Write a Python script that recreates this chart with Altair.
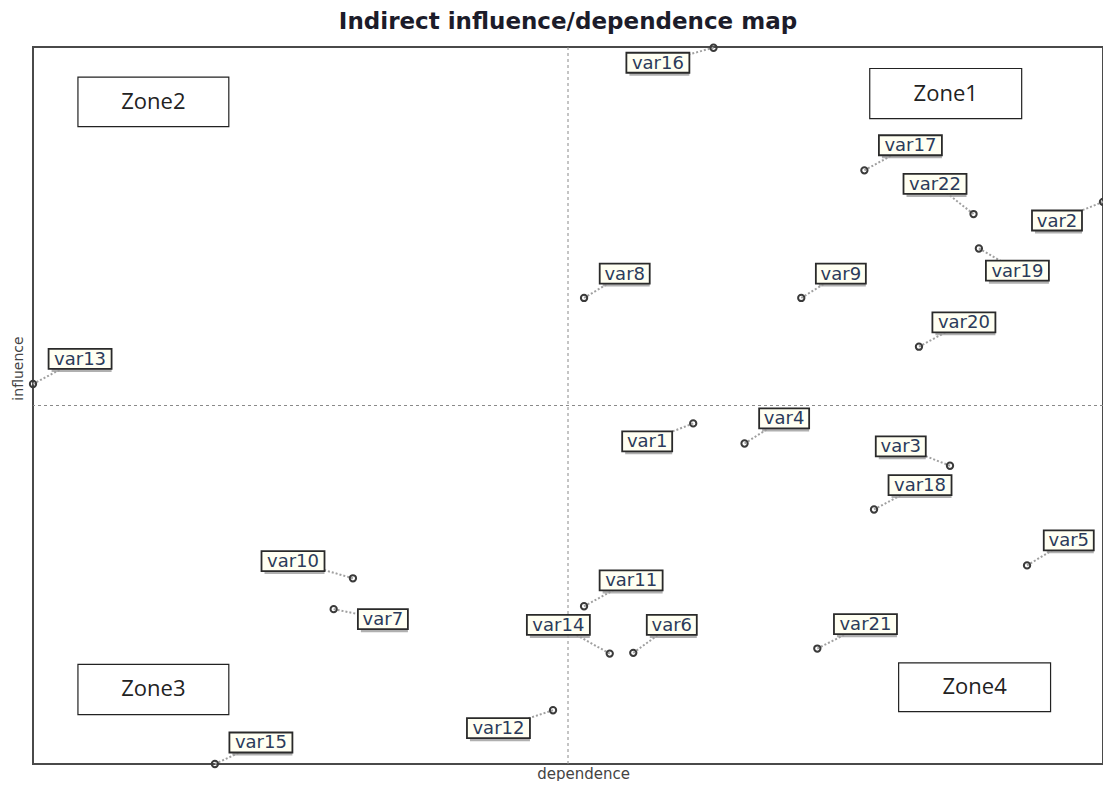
import altair as alt
import pandas as pd

# ---- data (dependence = x, influence = y, 0..100 scale)
names = ["var1", "var2", "var3", "var4", "var5", "var6", "var7", "var8", "var9", "var10", "var11",
         "var12", "var13", "var14", "var15", "var16", "var17", "var18", "var19", "var20", "var21", "var22"]
dependence = [61.7, 100.0, 85.7, 66.5, 92.9, 56.1, 28.1, 51.5, 71.8, 29.9, 51.5,
              48.6, 0.0, 53.9, 17.0, 63.6, 77.7, 78.6, 88.4, 82.8, 73.3, 87.9]
influence = [47.5, 78.4, 41.6, 44.7, 27.7, 15.5, 21.6, 65.0, 65.0, 25.9, 22.0,
             7.5, 53.0, 15.4, 0.0, 99.9, 82.8, 35.5, 71.9, 58.2, 16.1, 76.7]
label_x = [57.4, 95.7, 81.1, 70.2, 96.8, 59.7, 32.7, 55.3, 75.5, 24.3, 55.9,
           43.5, 4.4, 49.1, 21.3, 58.4, 82.0, 82.9, 92.0, 87.0, 77.8, 84.3]
label_y = [45.0, 75.8, 44.3, 48.2, 31.2, 19.4, 20.2, 68.4, 68.4, 28.3, 25.6,
           5.0, 56.5, 19.4, 3.0, 97.8, 86.3, 38.9, 68.8, 61.6, 19.5, 80.9]

zone_names = ["Zone1", "Zone2", "Zone3", "Zone4"]
zone_x1 = [78.2, 4.2, 4.2, 80.9]
zone_x2 = [92.4, 18.3, 18.3, 95.1]
zone_y1 = [90.0, 88.9, 6.9, 7.3]
zone_y2 = [97.0, 95.8, 13.9, 14.1]

W, H = 1070, 717
PXX, PXY = W / 100.0, H / 100.0

df = pd.DataFrame({"name": names, "dep": dependence, "inf": influence,
                   "lx": label_x, "ly": label_y})
half_w = df["name"].str.len().map(lambda n: (63 if n >= 5 else 50) / 2 / PXX)
half_h = 10 / PXY
df["bx1"] = df["lx"] - half_w
df["bx2"] = df["lx"] + half_w
df["by1"] = df["ly"] - half_h
df["by2"] = df["ly"] + half_h

zones = pd.DataFrame({"zone": zone_names, "x1": zone_x1, "x2": zone_x2,
                      "y1": zone_y1, "y2": zone_y2})
zones["cx"] = (zones["x1"] + zones["x2"]) / 2
zones["cy"] = (zones["y1"] + zones["y2"]) / 2

mid = pd.DataFrame({"v": [50]})

xs = alt.Scale(domain=[0, 100], nice=False, zero=False)
ys = alt.Scale(domain=[0, 100], nice=False, zero=False)
ax_x = alt.Axis(title="dependence", titleX=550, titlePadding=2, titleFontSize=15)
ax_y = alt.Axis(title="influence", titleY=321, titlePadding=8, titleFontSize=14)


def X(f):
    return alt.X(f, type="quantitative", scale=xs, axis=ax_x)


def Y(f):
    return alt.Y(f, type="quantitative", scale=ys, axis=ax_y)


vline = alt.Chart(mid).mark_rule(color="#8a8a8a", strokeDash=[3, 3], strokeWidth=1).encode(x=X("v"))
hline = alt.Chart(mid).mark_rule(color="#8a8a8a", strokeDash=[3, 3], strokeWidth=1).encode(y=Y("v"))

zone_box = alt.Chart(zones).mark_rect(fill="white", stroke="#222", strokeWidth=1.2).encode(
    x=X("x1"), x2="x2", y=Y("y1"), y2="y2")
zone_txt = alt.Chart(zones).mark_text(font="Open Sans", fontSize=22, color="#222").encode(
    x=X("cx"), y=Y("cy"), text="zone:N")

leader = alt.Chart(df).mark_rule(color="#a0a0a0", strokeDash=[2, 2], strokeWidth=2).encode(
    x=X("dep"), y=Y("inf"), x2="lx", y2="ly")
pts = alt.Chart(df).mark_point(shape="circle", size=40, filled=False, stroke="#3a3a3a",
                               strokeWidth=2, opacity=1).encode(x=X("dep"), y=Y("inf"))
shadow = alt.Chart(df).mark_rect(fill="#9c9c9c", opacity=0.8, xOffset=3, yOffset=3).encode(
    x=X("bx1"), x2="bx2", y=Y("by1"), y2="by2")
box = alt.Chart(df).mark_rect(fill="#fffff2", stroke="#2a2a2a", strokeWidth=1.8).encode(
    x=X("bx1"), x2="bx2", y=Y("by1"), y2="by2")
txt = alt.Chart(df).mark_text(font="DejaVu Sans", fontSize=18, color="#2b3b5a", dy=1).encode(
    x=X("lx"), y=Y("ly"), text="name:N")

chart = alt.layer(vline, hline, zone_box, zone_txt, leader, pts, shadow, box, txt).properties(
    width=W, height=H,
    title=alt.TitleParams("Indirect influence/dependence map", font="DejaVu Sans",
                          fontSize=23, fontWeight="bold", color="#1c1c2a",
                          baseline="alphabetic", offset=16, dy=27),
    autosize=alt.AutoSizeParams(type="none"),
    padding={"left": 25, "top": 39, "right": 0, "bottom": 17},
).configure_view(stroke="#4a4a4a", strokeWidth=2).configure_axis(
    domain=False, ticks=False, labels=False, grid=False,
    titleFont="DejaVu Sans", titleFontWeight="normal", titleColor="#444"
)

chart.save("out.html", embed_options={"renderer": "svg", "actions": False})
